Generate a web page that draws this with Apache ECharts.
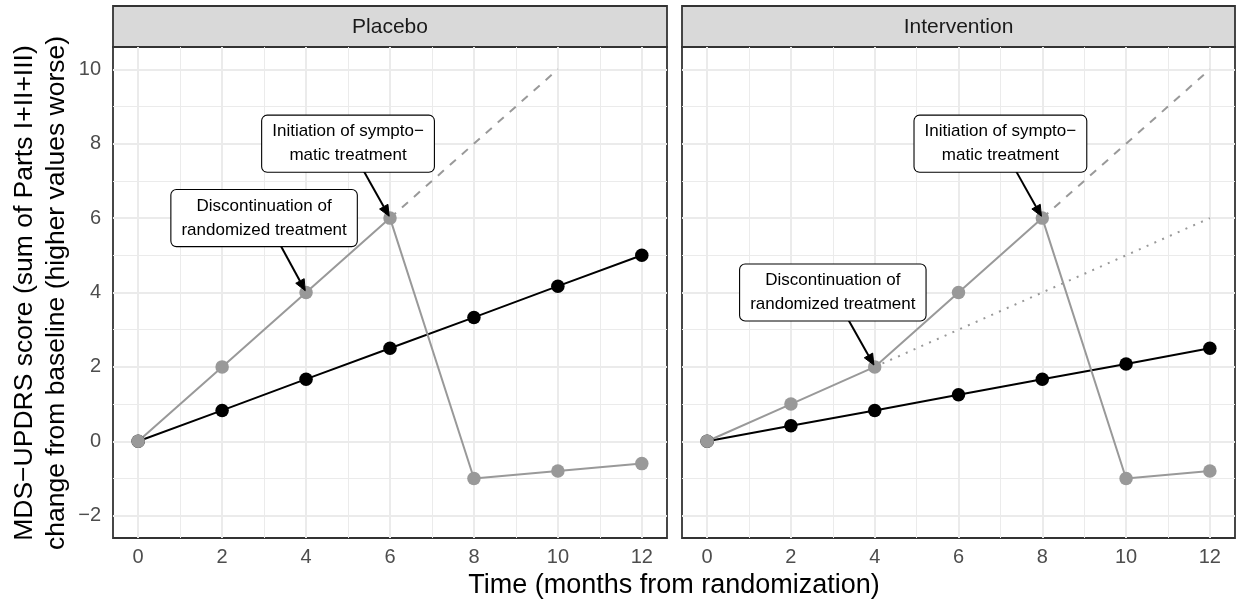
<!DOCTYPE html>
<html>
<head>
<meta charset="utf-8">
<script src="https://cdn.jsdelivr.net/npm/echarts@6/dist/echarts.min.js"></script>
<style>
html,body{margin:0;padding:0;background:#fff;}
#chart{width:1238px;height:606px;}
</style>
</head>
<body>
<div id="chart"></div>
<script>
// ---------------- data ----------------
const panels = ['Placebo', 'Intervention'];
const months = [0, 2, 4, 6, 8, 10, 12];
const xTicks = [0, 2, 4, 6, 8, 10, 12];
const xMinor = [1, 3, 5, 7, 9, 11];
const yTicks = [-2, 0, 2, 4, 6, 8, 10];
const yMinor = [-1, 1, 3, 5, 7, 9];

const placeboBlack = [0, 0.83, 1.67, 2.5, 3.33, 4.17, 5];
const placeboGrey = [0, 2, 4, 6, -1, -0.8, -0.6];
const interventionBlack = [0, 0.42, 0.83, 1.25, 1.67, 2.08, 2.5];
const interventionGrey = [0, 1, 2, 4, 6, -1, -0.8];

const placeboDashed = [[6, 6], [10, 10]];
const interventionDashed = [[8, 6], [12, 10]];
const interventionDotted = [[4, 2], [12, 6]];

const placeboLabels = [
  [3, 6, 'Discontinuation of\nrandomized treatment'],
  [5, 8, 'Initiation of sympto\u2212\nmatic treatment']
];
const interventionLabels = [
  [3, 4, 'Discontinuation of\nrandomized treatment'],
  [7, 8, 'Initiation of sympto\u2212\nmatic treatment']
];
// arrows: [x0, y0, x1, y1]
const placeboArrows = [[3.4, 5.25, 3.98, 4.05], [5.37, 7.27, 5.98, 6.05]];
const interventionArrows = [[3.38, 3.25, 3.98, 2.05], [7.37, 7.27, 7.98, 6.05]];

const xTitle = 'Time (months from randomization)';
const yTitle = 'MDS\u2212UPDRS score (sum of Parts I+II+III)\nchange from baseline (higher values worse)';

// ---------------- layout ----------------
const FONT = '"Liberation Sans", Arial, Helvetica, sans-serif';
const gridsPos = [
  {left: 113, top: 47, width: 554, height: 491},
  {left: 682, top: 47, width: 553, height: 491}
];
const GREY = '#999999';

const zip = (xs, ys) => xs.map((x, i) => [x, ys[i]]);
const minus = v => (v < 0 ? '\u2212' + Math.abs(v) : String(v));

const grids = gridsPos.map(g => Object.assign({
  show: true, backgroundColor: '#ffffff', borderColor: '#333333', borderWidth: 1.8, containLabel: false
}, g));

const xAxes = gridsPos.map((g, i) => ({
  type: 'value', gridIndex: i, min: -0.6, max: 12.6,
  axisLine: {show: false},
  splitLine: {show: false},
  axisTick: {show: true, customValues: xTicks, length: 5, lineStyle: {color: '#333333', width: 1.8}},
  axisLabel: {show: true, customValues: xTicks, margin: 9, color: '#4d4d4d', fontSize: 20, fontFamily: FONT, formatter: minus}
}));
const yAxes = gridsPos.map((g, i) => ({
  type: 'value', gridIndex: i, min: -2.6, max: 10.6,
  axisLine: {show: false},
  splitLine: {show: false},
  axisTick: {show: i === 0, customValues: yTicks, length: 5, lineStyle: {color: '#333333', width: 1.8}},
  axisLabel: {show: i === 0, customValues: yTicks, margin: 12, color: '#4d4d4d', fontSize: 20, fontFamily: FONT, formatter: minus}
}));

function gridLines() {
  const d = [];
  xMinor.forEach(v => d.push({xAxis: v, lineStyle: {color: '#ebebeb', width: 1, type: 'solid'}}));
  yMinor.forEach(v => d.push({yAxis: v, lineStyle: {color: '#ebebeb', width: 1, type: 'solid'}}));
  xTicks.forEach(v => d.push({xAxis: v, lineStyle: {color: '#ebebeb', width: 2, type: 'solid'}}));
  yTicks.forEach(v => d.push({yAxis: v, lineStyle: {color: '#ebebeb', width: 2, type: 'solid'}}));
  return {silent: true, symbol: ['none', 'none'], label: {show: false}, z: 1, animation: false, data: d};
}

function arrowSeries(idx, arr) {
  return {
    type: 'custom', xAxisIndex: idx, yAxisIndex: idx, z: 10,
    data: arr, encode: {x: [0, 2], y: [1, 3]},
    renderItem: function (params, api) {
      const p0 = api.coord([api.value(0), api.value(1)]);
      const p1 = api.coord([api.value(2), api.value(3)]);
      const ang = Math.atan2(p1[1] - p0[1], p1[0] - p0[0]);
      const L = 11, W = 4.8;
      const base = [p1[0] - L * Math.cos(ang), p1[1] - L * Math.sin(ang)];
      const a = [base[0] + W * Math.sin(ang), base[1] - W * Math.cos(ang)];
      const b = [base[0] - W * Math.sin(ang), base[1] + W * Math.cos(ang)];
      return {type: 'group', children: [
        {type: 'line', shape: {x1: p0[0], y1: p0[1], x2: base[0], y2: base[1]}, style: {stroke: '#000', lineWidth: 2}},
        {type: 'polygon', shape: {points: [p1, a, b]}, style: {fill: '#000', stroke: '#000', lineWidth: 1}}
      ]};
    }
  };
}

function labelSeries(idx, arr) {
  return {
    type: 'custom', xAxisIndex: idx, yAxisIndex: idx, z: 11,
    data: arr.map(r => [r[0], r[1]]), encode: {x: 0, y: 1},
    renderItem: function (params, api) {
      const c = api.coord([api.value(0), api.value(1)]);
      return {
        type: 'text', x: c[0], y: c[1],
        style: {
          text: arr[params.dataIndex][2], align: 'center', verticalAlign: 'middle',
          fontSize: 17, fontFamily: FONT, fill: '#000', lineHeight: 24,
          backgroundColor: '#ffffff', borderColor: '#000000', borderWidth: 1.1, borderRadius: 5,
          padding: [4, 10]
        }
      };
    }
  };
}

function refLine(idx, data, dash) {
  return {
    type: 'line', xAxisIndex: idx, yAxisIndex: idx, data: data, symbol: 'none', z: 2,
    lineStyle: {color: GREY, width: 2, type: dash}, silent: true, animation: false
  };
}

function mainLine(idx, ys, color, withGrid) {
  const s = {
    type: 'line', xAxisIndex: idx, yAxisIndex: idx, data: zip(months, ys),
    symbol: 'circle', symbolSize: 13.5, showAllSymbol: true, z: 3,
    lineStyle: {color: color, width: 2}, itemStyle: {color: color},
    silent: true, animation: false
  };
  if (withGrid) s.markLine = gridLines();
  return s;
}

const series = [
  mainLine(0, placeboBlack, '#000000', true),
  refLine(0, placeboDashed, [8, 8]),
  mainLine(0, placeboGrey, GREY, false),
  arrowSeries(0, placeboArrows),
  labelSeries(0, placeboLabels),

  mainLine(1, interventionBlack, '#000000', true),
  refLine(1, interventionDashed, [8, 8]),
  refLine(1, interventionDotted, [2, 6.5]),
  mainLine(1, interventionGrey, GREY, false),
  arrowSeries(1, interventionArrows),
  labelSeries(1, interventionLabels)
];

const graphics = [];
gridsPos.forEach((g, i) => {
  graphics.push({type: 'rect', shape: {x: g.left, y: 6, width: g.width, height: 41},
    style: {fill: '#d9d9d9', stroke: '#333333', lineWidth: 1.8}, z: 0});
  graphics.push({type: 'text', x: g.left + g.width / 2, y: 27,
    style: {text: panels[i], align: 'center', verticalAlign: 'middle', fontSize: 21, fontFamily: FONT, fill: '#1a1a1a'}, z: 1});
});
graphics.push({type: 'text', x: 674, y: 586,
  style: {text: xTitle, align: 'center', verticalAlign: 'middle', fontSize: 27, fontFamily: FONT, fill: '#000'}});
graphics.push({type: 'text', x: 41, y: 293, rotation: Math.PI / 2,
  style: {text: yTitle, align: 'center', verticalAlign: 'middle', fontSize: 26.5, lineHeight: 32, fontFamily: FONT, fill: '#000'}});

const chart = echarts.init(document.getElementById('chart'), null, {renderer: 'canvas'});
chart.setOption({
  backgroundColor: '#ffffff',
  animation: false,
  grid: grids,
  xAxis: xAxes,
  yAxis: yAxes,
  series: series,
  graphic: graphics
});
</script>
</body>
</html>
